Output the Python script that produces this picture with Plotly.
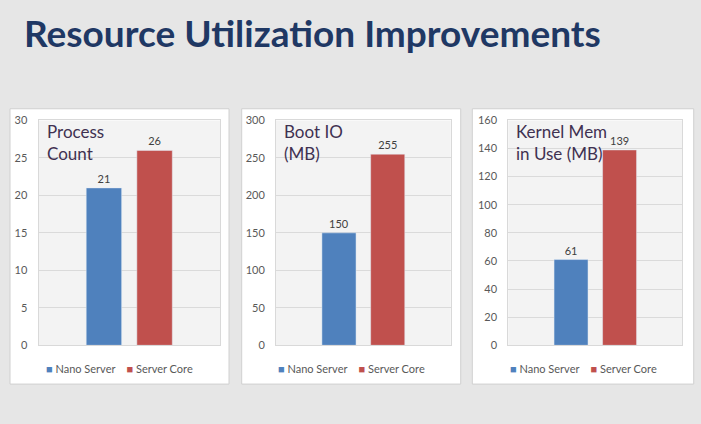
import plotly.graph_objects as go

W, H = 701, 424

series = ["Nano Server", "Server Core"]
colors = ["#4f81bd", "#c0504d"]
panel_titles = ["Process<br>Count", "Boot IO<br>(MB)", "Kernel Mem<br>in Use (MB)"]
nano_values = [21, 150, 61]
core_values = [26, 255, 139]
y_max = [30, 300, 160]
y_step = [5, 50, 20]
category = [""]

# layout (pixels)
plot_x = [(38.5, 220.0), (276.0, 450.7), (508.3, 682.3)]
plot_y = (117.0, 349.0)
box_x = [(10, 229), (241.7, 460.7), (472.3, 693.7)]
box_y = (105, 389)

fig = go.Figure()
BG = "#e6e6e6"

for i in range(3):
    ax = "" if i == 0 else str(i + 1)
    for s, vals, col in zip(series, [nano_values, core_values], colors):
        fig.add_trace(go.Bar(
            x=category, y=[vals[i]], name=s, marker_color=col,
            xaxis="x" + ax, yaxis="y" + ax, showlegend=False,
            text=[vals[i]], texttemplate="%{text}", textposition="outside",
            textfont=dict(size=11, color="#404040", family="Lato"),
            cliponaxis=False,
        ))
    xd = [plot_x[i][0] / W, plot_x[i][1] / W]
    yd = [(H - plot_y[1]) / H, (H - plot_y[0]) / H]
    fig.update_layout(**{
        "xaxis" + ax: dict(domain=xd, anchor="y" + ax, showticklabels=False,
                           type="category", range=[-0.5, 0.5],
                           showline=True, linecolor="#d9d9d9", mirror=True,
                           showgrid=False, zeroline=False, fixedrange=True),
        "yaxis" + ax: dict(domain=yd, anchor="x" + ax, range=[0, y_max[i]],
                           dtick=y_step[i], tick0=0, showgrid=True,
                           gridcolor="#dadada", gridwidth=1,
                           showline=True, linecolor="#d9d9d9", mirror=True,
                           zeroline=False, ticklabelstandoff=8, fixedrange=True,
                           tickfont=dict(size=11, color="#595959", family="Lato")),
    })
    # white panel box
    fig.add_shape(type="rect", xref="paper", yref="paper", layer="below",
                  x0=box_x[i][0] / W, x1=box_x[i][1] / W,
                  y0=(H - box_y[1]) / H, y1=(H - box_y[0]) / H,
                  fillcolor="white", line=dict(color="#d0d0d0", width=1))
    # plot area background
    fig.add_shape(type="rect", xref="x" + ax + " domain", yref="y" + ax + " domain",
                  layer="below", x0=0, x1=1, y0=0, y1=1,
                  fillcolor="#f3f3f3", line=dict(width=0))
    # panel title
    fig.add_annotation(xref="x" + ax + " domain", yref="y" + ax + " domain",
                       x=0, y=1, xanchor="left", yanchor="top", xshift=6, yshift=1,
                       text=panel_titles[i], showarrow=False, align="left",
                       font=dict(size=17, color="#3f3151", family="Lato"))
    # legend
    leg = ("<span style='color:%s'>■</span> %s&nbsp;&nbsp;&nbsp;&nbsp;"
           "<span style='color:%s'>■</span> %s") % (colors[0], series[0], colors[1], series[1])
    fig.add_annotation(xref="paper", yref="paper",
                       x=(box_x[i][0] + box_x[i][1]) / 2 / W, y=(H - 373) / H,
                       xanchor="center", yanchor="middle", showarrow=False,
                       text=leg, font=dict(size=11, color="#595959", family="Lato"))

fig.add_annotation(xref="paper", yref="paper", x=22 / W, y=1 - 1 / H,
                   xanchor="left", yanchor="top", showarrow=False,
                   text="<b>Resource Utilization Improvements</b>",
                   font=dict(size=37, color="#1f3864", family="Lato"))

fig.update_layout(width=W, height=H, margin=dict(l=0, r=0, t=0, b=0),
                  paper_bgcolor=BG, plot_bgcolor="#f3f3f3",
                  barmode="group", bargap=0.442, bargroupgap=0.3,
                  font=dict(family="Lato"))

fig.write_html("out.html", config={"displayModeBar": False},
               post_script="document.body.style.margin='0';document.body.style.overflow='hidden';")
